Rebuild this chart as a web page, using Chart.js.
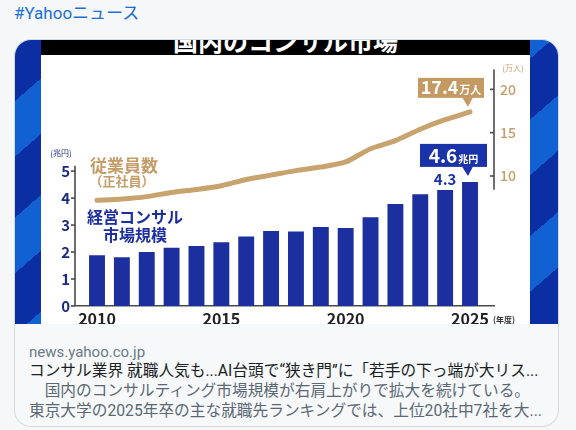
<!DOCTYPE html>
<html><head><meta charset="utf-8">
<script src="https://cdn.jsdelivr.net/npm/chart.js@4.4.1/dist/chart.umd.min.js"></script>
<style>
*{box-sizing:border-box}
body{margin:0;width:576px;height:430px;background:#f5f7f8;position:relative;overflow:hidden;font-family:Roboto,"Noto Sans CJK JP",sans-serif}
#tag{position:absolute;left:14px;top:2px;font-size:17px;color:#1d6fd6;line-height:22px;white-space:nowrap}
#card{position:absolute;left:15px;top:40px;width:543px;height:386px;border-radius:16px;box-shadow:0 0 0 1px #d3dbe0;overflow:hidden;background:#f6f8f9}
#img{position:absolute;left:0;top:0;width:543px;height:284px;background:repeating-linear-gradient(139deg,#0b2ea3 0 46px,#1161d2 46px 88px)}
#panel{position:absolute;left:26px;top:0;width:489px;height:284px;background:#fff;overflow:hidden}
#titlebar{position:absolute;left:0;top:0;width:489px;height:15px;background:#000;overflow:hidden}
#titletext{position:absolute;left:0;width:489px;top:-12px;text-align:center;color:#fff;font:bold 25px/25px "Noto Sans CJK JP";white-space:nowrap}
#chartbox{position:absolute;left:1px;top:15px;width:488px;height:269px}
.ann{position:absolute;white-space:nowrap;text-align:center;font-family:"Noto Sans CJK JP"}
.meta{position:absolute;left:14px;white-space:nowrap;line-height:20px}
</style></head>
<body>
<div id="tag">#Yahooニュース</div>
<div id="card">
  <div id="img">
    <div id="panel">
      <div id="titlebar"><div id="titletext">国内のコンサル市場</div></div>
      <div id="chartbox"><canvas id="c" width="488" height="269" style="width:488px;height:269px"></canvas></div>
      <div class="ann" style="left:7px;width:26px;top:108px;font-size:8px;line-height:10px;color:#1b2a80">(兆円)</div>
      <div class="ann" style="left:47px;width:72px;top:115px;font-size:17px;line-height:20px;font-weight:bold;color:#c49c68">従業員数</div>
      <div class="ann" style="left:45px;width:72px;top:133px;font-size:13px;line-height:16px;font-weight:bold;color:#c49c68">（正社員）</div>
      <div class="ann" style="left:41px;width:106px;top:167px;font-size:16px;line-height:18px;font-weight:bold;color:#1c2f9f">経営コンサル</div>
      <div class="ann" style="left:41px;width:106px;top:185px;font-size:16px;line-height:18px;font-weight:bold;color:#1c2f9f">市場規模</div>
      <div class="ann" style="left:459px;width:26px;top:23px;font-size:8px;line-height:10px;color:#c49c68">(万人)</div>
      <div class="ann" style="left:449px;width:28px;top:275px;font-size:8px;line-height:10px;color:#333;font-weight:bold">(年度)</div>
    </div>
  </div>
  <div class="meta" style="top:302px;font-size:15px;color:#6b7a86">news.yahoo.co.jp</div>
  <div class="meta" style="top:321px;font-size:15.7px;color:#1a1f24">コンサル業界 就職人気も...AI台頭で“狭き門”に「若手の下っ端が大リス...</div>
  <div class="meta" style="top:341px;font-size:15.7px;color:#5b6874">　国内のコンサルティング市場規模が右肩上がりで拡大を続けている。</div>
  <div class="meta" style="top:361px;font-size:15.7px;color:#5b6874">東京大学の2025年卒の主な就職先ランキングでは、上位20社中7社を大...</div>
</div>
<script>
const years = [2010,2011,2012,2013,2014,2015,2016,2017,2018,2019,2020,2021,2022,2023,2024,2025];
const marketSize = [1.88,1.81,2.0,2.16,2.22,2.36,2.58,2.78,2.76,2.93,2.89,3.29,3.78,4.14,4.3,4.6];
const employees = [7.2,7.34,7.62,8.1,8.45,8.88,9.6,10.1,10.62,11.03,11.62,13.15,14.08,15.4,16.5,17.4];
const xTickYears = [2010,2015,2020,2025];
const leftTicks = [0,1,2,3,4,5];
const rightTicks = [10,15,20];

const NAVY='#1c2f9f', TAN='#c9a36e', TANBOX='#c49a62', NAVYBOX='#1b33a8';
const NUMFONT='"Noto Sans CJK JP", "Liberation Sans", sans-serif';

function callout(ctx, ax, ay, o){
  const L=ax+o.left, R=ax+o.right, T=ay+o.top, B=ay+o.bottom;
  ctx.save();
  ctx.fillStyle=o.color;
  ctx.fillRect(L,T,R-L,B-T);
  ctx.beginPath();
  ctx.moveTo(ax-8,B-0.5); ctx.lineTo(ax+3,B-0.5); ctx.lineTo(ax-2,ay+o.tip); ctx.closePath(); ctx.fill();
  ctx.fillStyle='#fff';
  ctx.textBaseline='alphabetic';
  ctx.font='bold '+o.big+'px '+NUMFONT;
  const w1=ctx.measureText(o.num).width;
  ctx.font='bold '+o.small+'px "Noto Sans CJK JP"';
  const w2=ctx.measureText(o.unit).width;
  let x=(L+R)/2-(w1+w2+1)/2;
  ctx.font='bold '+o.big+'px '+NUMFONT;
  ctx.textAlign='left';
  ctx.fillText(o.num,x,B-o.base);
  ctx.font='bold '+o.small+'px "Noto Sans CJK JP"';
  ctx.fillText(o.unit,x+w1+1,B-o.base);
  ctx.restore();
}

const axisPlugin={
  id:'axisPlugin',
  afterDraw(chart){
    const ctx=chart.ctx, a=chart.chartArea, s=chart.scales;
    ctx.save();
    ctx.strokeStyle='#4a4a4a'; ctx.lineWidth=1.6;
    const lx=a.left;
    ctx.beginPath(); ctx.moveTo(lx,s.y.getPixelForValue(0)); ctx.lineTo(lx,s.y.getPixelForValue(5.2)); ctx.stroke();
    leftTicks.forEach(v=>{const py=s.y.getPixelForValue(v);ctx.beginPath();ctx.moveTo(lx-4,py);ctx.lineTo(lx,py);ctx.stroke();});
    const rx=a.right;
    ctx.beginPath(); ctx.moveTo(rx,s.y2.getPixelForValue(8.4)); ctx.lineTo(rx,s.y2.getPixelForValue(22.3)); ctx.stroke();
    rightTicks.forEach(v=>{const py=s.y2.getPixelForValue(v);ctx.beginPath();ctx.moveTo(rx-4,py);ctx.lineTo(rx,py);ctx.stroke();});
    ctx.restore();
    const n=years.length-1;
    const ex=s.x.getPixelForValue(years[n]), ey=s.y2.getPixelForValue(employees[n]);
    callout(ctx,ex,ey,{left:-52,right:14,top:-34,bottom:-14,tip:-5,color:TANBOX,num:String(employees[n]),unit:'万人',big:18,small:11,base:4});
    const mx=s.x.getPixelForValue(years[n]), my=s.y.getPixelForValue(marketSize[n]);
    callout(ctx,mx,my,{left:-50,right:17,top:-38,bottom:-15,tip:-6,color:NAVYBOX,num:String(marketSize[n]),unit:'兆円',big:19,small:10,base:4});
    const px=s.x.getPixelForValue(years[n-1]), py=s.y.getPixelForValue(marketSize[n-1]);
    ctx.save();
    ctx.fillStyle=NAVYBOX; ctx.font='bold 15px '+NUMFONT; ctx.textAlign='center'; ctx.textBaseline='middle';
    ctx.fillText(marketSize[n-1].toFixed(1),px,py-11);
    ctx.restore();
  }
};

new Chart(document.getElementById('c'),{
  type:'bar',
  data:{datasets:[
    {type:'line',data:years.map((y,i)=>({x:y,y:employees[i]})),yAxisID:'y2',borderColor:TAN,borderWidth:5,pointRadius:0,tension:0.25,borderCapStyle:'round',borderJoinStyle:'round',order:0},
    {type:'bar',data:years.map((y,i)=>({x:y,y:marketSize[i]})),yAxisID:'y',backgroundColor:NAVY,barPercentage:0.64,categoryPercentage:1,order:1}
  ]},
  options:{
    responsive:false,animation:false,
    layout:{padding:{top:9,left:0,right:0,bottom:0}},
    plugins:{legend:{display:false},tooltip:{enabled:false}},
    scales:{
      x:{type:'linear',min:2009.115,max:2025.965,offset:false,
        grid:{display:false,drawTicks:false},border:{display:true,color:'#4a4a4a',width:1.6},
        ticks:{padding:3,color:'#222',font:{family:NUMFONT,size:16,weight:'bold'},callback:v=>String(v),maxRotation:0,autoSkip:false},
        afterBuildTicks:sc=>{sc.ticks=xTickYears.map(v=>({value:v}));},
        afterFit:sc=>{sc.height=18;}},
      y:{position:'left',min:0,max:8.77,
        grid:{display:false,drawTicks:false},border:{display:false},
        ticks:{padding:5,color:'#1b2a80',font:{family:NUMFONT,size:15,weight:'bold'}},
        afterBuildTicks:sc=>{sc.ticks=leftTicks.map(v=>({value:v}));},
        afterFit:sc=>{sc.width=33;}},
      y2:{position:'right',min:-5,max:22.3,
        grid:{display:false,drawTicks:false},border:{display:false},
        ticks:{padding:6,color:'#c49c68',font:{family:NUMFONT,size:14,weight:'500'}},
        afterBuildTicks:sc=>{sc.ticks=rightTicks.map(v=>({value:v}));},
        afterFit:sc=>{sc.width=36;}}
    }
  },
  plugins:[axisPlugin]
});
</script>
</body></html>
